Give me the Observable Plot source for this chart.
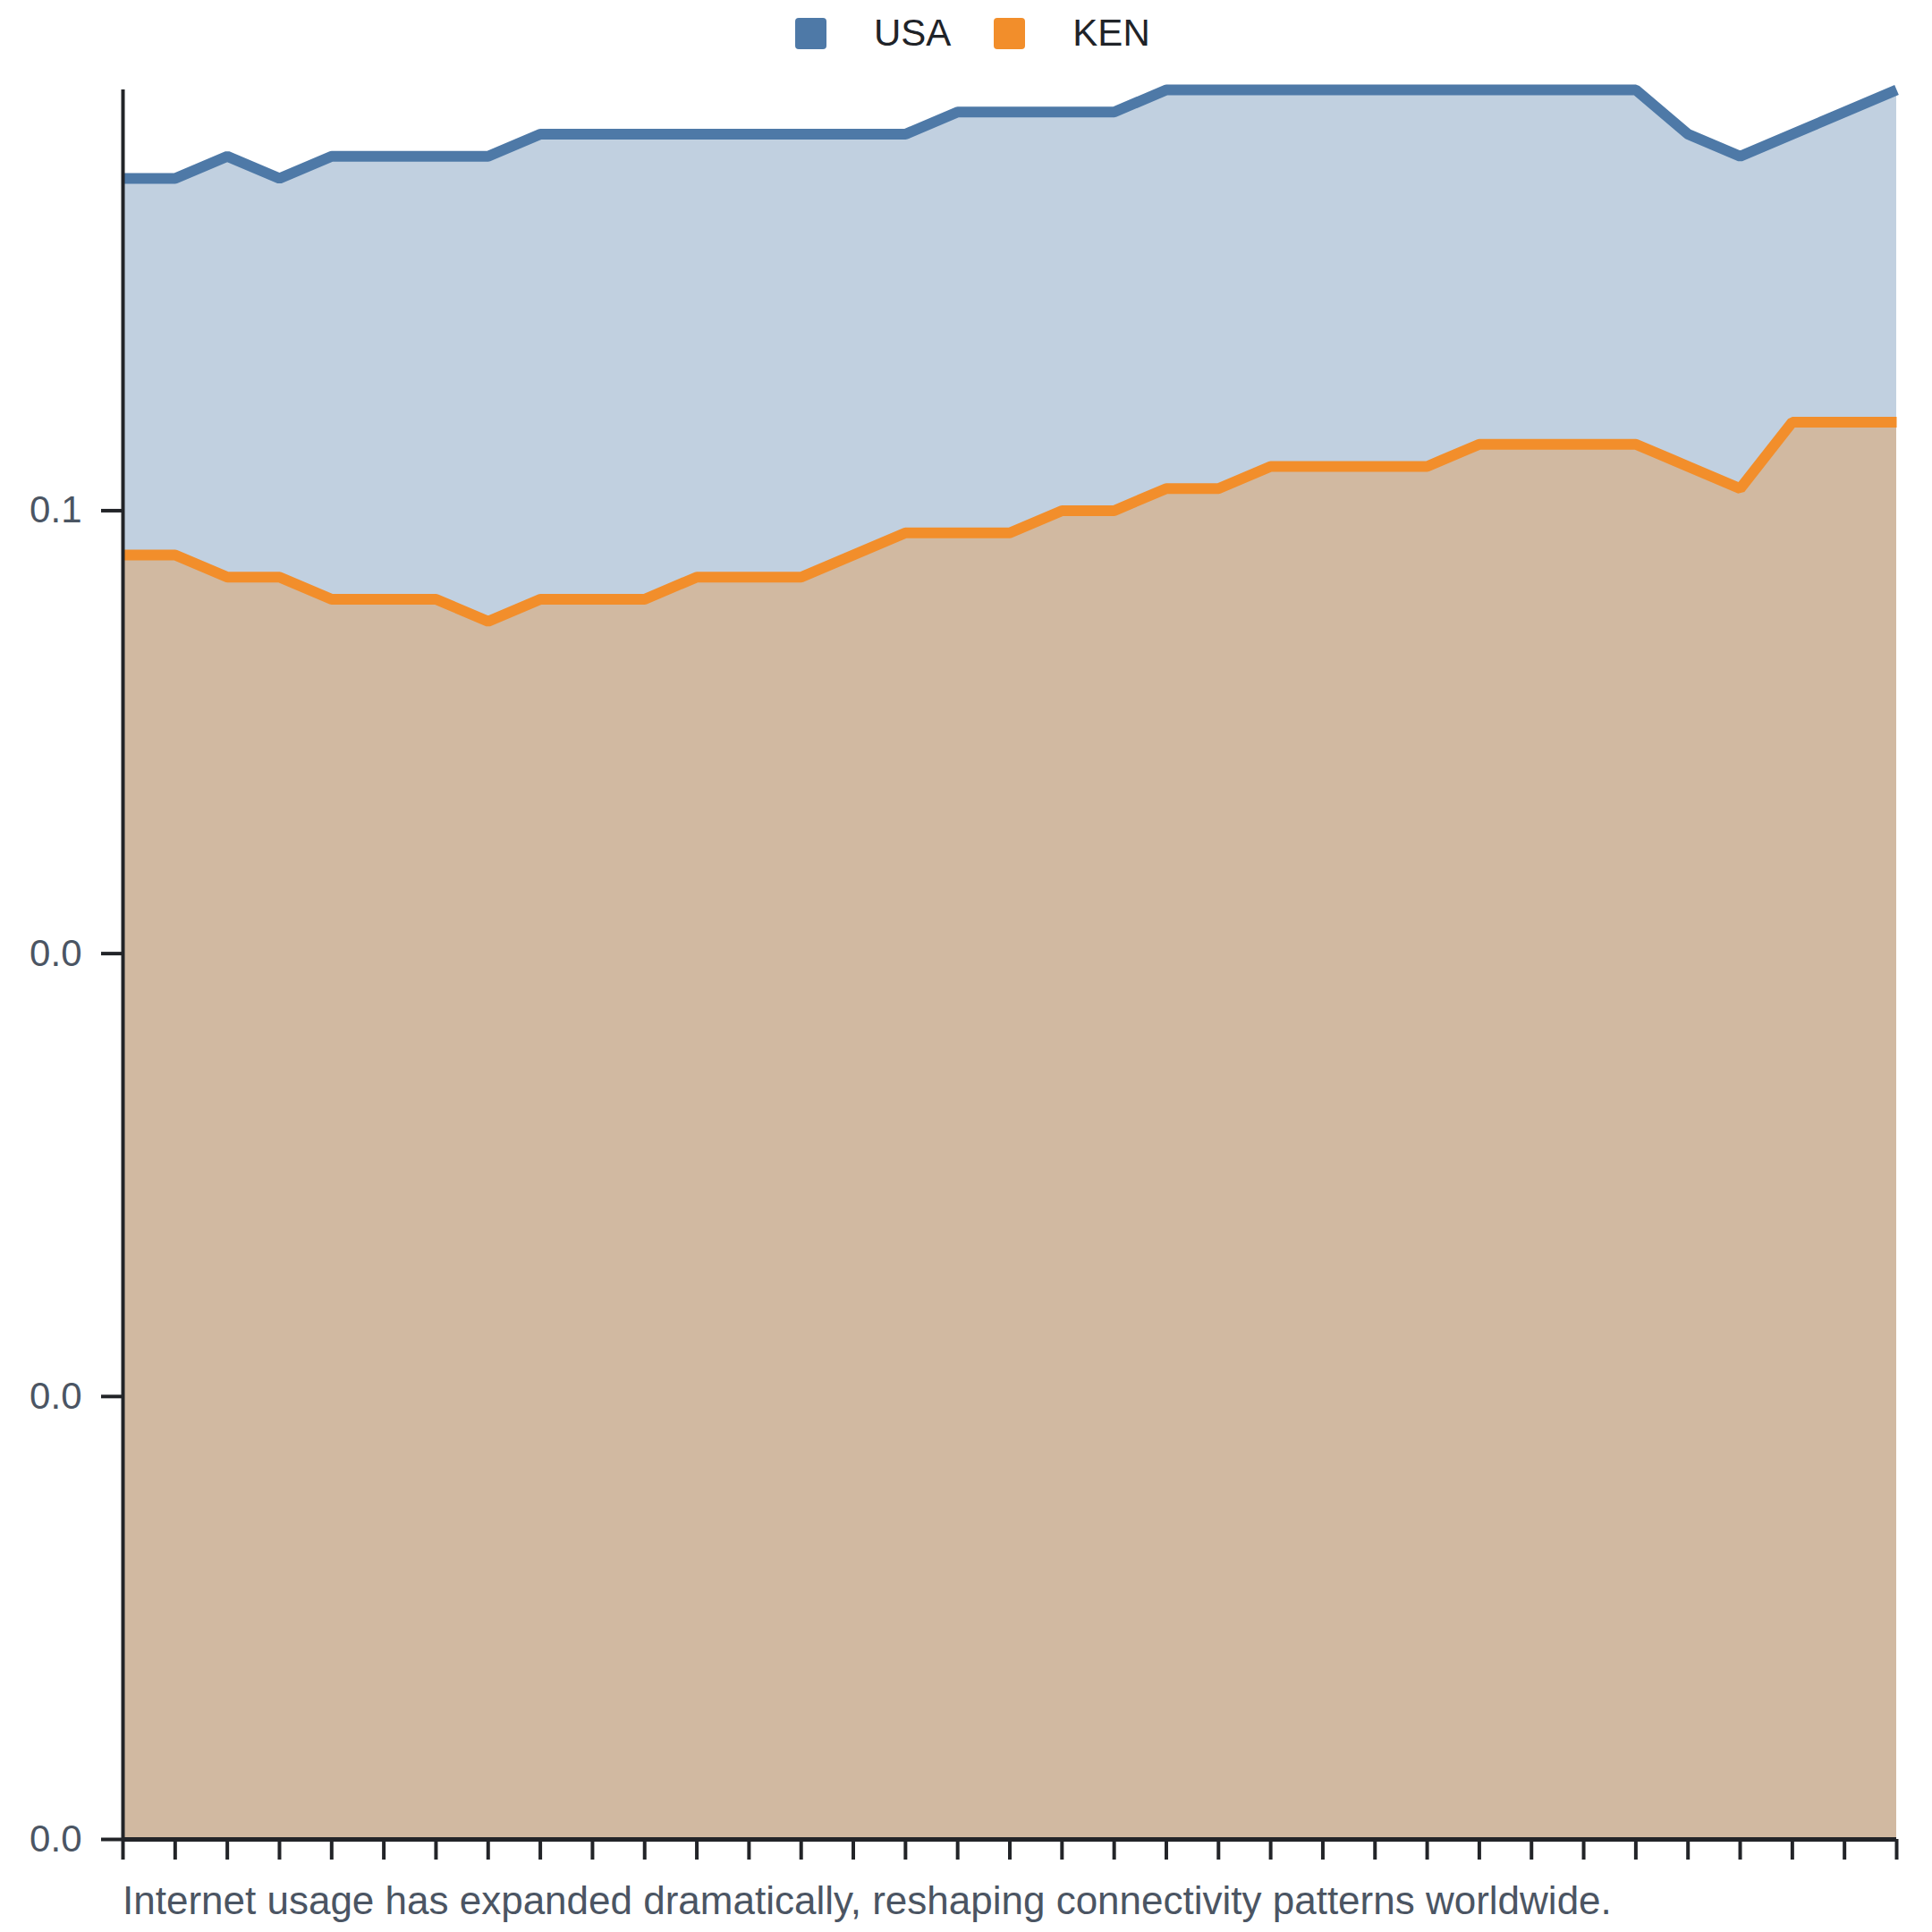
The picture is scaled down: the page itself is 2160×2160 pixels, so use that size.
<!DOCTYPE html>
<html>
<head>
<meta charset="utf-8">
<script src="https://cdn.jsdelivr.net/npm/d3@7"></script>
<script src="https://cdn.jsdelivr.net/npm/@observablehq/plot@0.6"></script>
<style>
  html, body { margin: 0; padding: 0; background: #fff; }
  body { width: 2160px; height: 2160px; font-family: "Liberation Sans", Arial, sans-serif; }
  #legend { height: 74px; display: flex; align-items: center; padding-left: 889px; font-size: 42px; color: #1f2328; }
  .sw { width: 35px; height: 35px; border-radius: 4px; }
  .lab { margin-left: 53px; margin-right: 48px; line-height: 1; }
  #caption { margin-top: 10px; padding-left: 137px; font-size: 44px; line-height: 50px; color: #4b5563; }
  svg { display: block; }
</style>
</head>
<body>
<div id="legend"></div>
<div id="chart"></div>
<div id="caption"></div>
<script>
const years = [1990,1991,1992,1993,1994,1995,1996,1997,1998,1999,2000,2001,2002,2003,2004,2005,2006,2007,2008,2009,2010,2011,2012,2013,2014,2015,2016,2017,2018,2019,2020,2021,2022,2023,2024];
const usa = [0.075,0.075,0.076,0.075,0.076,0.076,0.076,0.076,0.077,0.077,0.077,0.077,0.077,0.077,0.077,0.077,0.078,0.078,0.078,0.078,0.079,0.079,0.079,0.079,0.079,0.079,0.079,0.079,0.079,0.079,0.077,0.076,0.077,0.078,0.079];
const ken = [0.058,0.058,0.057,0.057,0.056,0.056,0.056,0.055,0.056,0.056,0.056,0.057,0.057,0.057,0.058,0.059,0.059,0.059,0.060,0.060,0.061,0.061,0.062,0.062,0.062,0.062,0.063,0.063,0.063,0.063,0.062,0.061,0.064,0.064,0.064];
const seriesNames = ["USA", "KEN"];
const seriesColors = ["#4e79a7", "#f28e2b"];
const yTicks = [0, 0.02, 0.04, 0.06];
const captionText = "Internet usage has expanded dramatically, reshaping connectivity patterns worldwide.";

const rows = [];
years.forEach((y, i) => rows.push({year: y, value: usa[i], country: "USA"}));
years.forEach((y, i) => rows.push({year: y, value: ken[i], country: "KEN"}));

const plot = Plot.plot({
  width: 2160,
  height: 2016,
  marginTop: 26,
  marginBottom: 34,
  marginLeft: 137,
  marginRight: 40,
  style: {fontSize: "42px", fontFamily: "Liberation Sans, Arial, sans-serif", background: "#fff"},
  x: {domain: [years[0], years[years.length - 1]]},
  y: {domain: [0, d3.max(usa)]},
  color: {domain: seriesNames, range: seriesColors},
  marks: [
    Plot.areaY(rows, {x: "year", y1: 0, y2: "value", z: "country", fill: "country", fillOpacity: 0.35}),
    Plot.lineY(rows, {x: "year", y: "value", z: "country", stroke: "country", strokeWidth: 12, strokeLinecap: "butt", strokeLinejoin: "miter"}),
    Plot.axisY({ticks: yTicks, tickFormat: d3.format(".1f"), tickSize: 24, tickPadding: 22, stroke: "#222428", strokeWidth: 4, fill: "#4b5563", label: null}),
    Plot.axisX({ticks: years, tickFormat: () => "", tickSize: 23, stroke: "#222428", strokeWidth: 4, label: null}),
    Plot.ruleX([years[0]], {stroke: "#222428", strokeWidth: 4}),
    Plot.ruleY([0], {stroke: "#222428", strokeWidth: 5})
  ]
});
document.getElementById("chart").appendChild(plot);

const legend = document.getElementById("legend");
seriesNames.forEach((name, i) => {
  const sw = document.createElement("div");
  sw.className = "sw";
  sw.style.background = seriesColors[i];
  const lab = document.createElement("div");
  lab.className = "lab";
  lab.textContent = name;
  legend.appendChild(sw);
  legend.appendChild(lab);
});
document.getElementById("caption").textContent = captionText;
</script>
</body>
</html>
